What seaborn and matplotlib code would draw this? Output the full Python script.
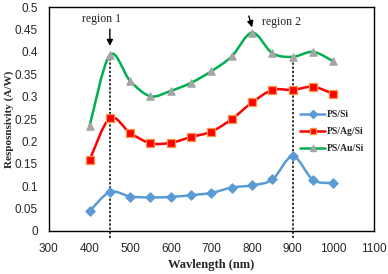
import numpy as np
import pandas as pd
import seaborn as sns
import matplotlib
matplotlib.use("Agg")
import matplotlib.pyplot as plt
from matplotlib.path import Path
from matplotlib.patches import PathPatch
from matplotlib.lines import Line2D
from matplotlib.ticker import FuncFormatter

# Dados
wavelength = [400, 450, 500, 550, 600, 650, 700, 750, 800, 850, 900, 950, 1000]
ps_si = [0.044, 0.087, 0.077, 0.075, 0.076, 0.080, 0.085, 0.097, 0.102, 0.115, 0.167, 0.114, 0.107]
ps_ag_si = [0.158, 0.252, 0.219, 0.196, 0.197, 0.210, 0.222, 0.250, 0.287, 0.315, 0.315, 0.322, 0.306]
ps_au_si = [0.234, 0.393, 0.335, 0.301, 0.313, 0.331, 0.357, 0.390, 0.443, 0.397, 0.389, 0.400, 0.379]
series_names = ["PS/Si", "PS/Ag/Si", "PS/Au/Si"]
region_x = [450, 900]
region_top = [0.393, 0.389]
region_labels = ["region 1", "region 2"]

df = pd.DataFrame({"wavelength": wavelength, "PS/Si": ps_si, "PS/Ag/Si": ps_ag_si, "PS/Au/Si": ps_au_si})
df_long = df.melt(id_vars="wavelength", var_name="sample", value_name="resp")

sns.set_style("white")
plt.rcParams["font.family"] = ["Liberation Sans", "DejaVu Sans"]

styles = {
    "PS/Si": dict(color="#5B9BD5", marker="D", mfc="#5B9BD5", mec="#5B9BD5", ms=4.5),
    "PS/Ag/Si": dict(color="#FF0000", marker="s", mfc="#FF0000", mec="#F79646", ms=5),
    "PS/Au/Si": dict(color="#00B050", marker="^", mfc="#A5A5A5", mec="#A5A5A5", ms=5),
}


def smooth_path(x, y):
    # curva suave tipo Excel (Bezier cúbica passando pelos pontos)
    x = np.asarray(x, float)
    y = np.asarray(y, float)
    pts = np.column_stack([x, y])
    n = len(pts)
    verts = [pts[0]]
    codes = [Path.MOVETO]
    for i in range(n - 1):
        p0 = pts[i - 1] if i > 0 else pts[i]
        p1 = pts[i]
        p2 = pts[i + 1]
        p3 = pts[i + 2] if i + 2 < n else pts[i + 1]
        c1 = p1 + (p2 - p0) / 6
        c2 = p2 - (p3 - p1) / 6
        verts += [c1, c2, p2]
        codes += [Path.CURVE4] * 3
    return Path(verts, codes)


fig, ax = plt.subplots(figsize=(3.88, 2.74), dpi=100)
fig.subplots_adjust(left=0.126, right=0.964, top=0.974, bottom=0.157)

# Linhas pontilhadas das regiões
for xr, yt in zip(region_x, region_top):
    ax.plot([xr, xr], [-0.016, yt], color="black", linestyle=(0, (1.5, 1.2)), linewidth=1.1, clip_on=False, zorder=1)

for name in series_names:
    st = styles[name]
    patch = PathPatch(smooth_path(df["wavelength"], df[name]), facecolor="none", edgecolor=st["color"], linewidth=1.8, zorder=2)
    ax.add_patch(patch)

for name in series_names:
    st = styles[name]
    sub = df_long[df_long["sample"] == name]
    sns.scatterplot(data=sub, x="wavelength", y="resp", marker=st["marker"], color=st["mfc"], edgecolor=st["mec"],
                    linewidth=0.9, s=st["ms"] ** 2 * 1.1, ax=ax, zorder=3, legend=False)

ax.set_xlim(300, 1100)
ax.set_ylim(0, 0.5)
ax.set_xticks(np.arange(300, 1101, 100))
ax.set_yticks(np.arange(0, 0.501, 0.05))
ax.yaxis.set_major_formatter(FuncFormatter(lambda v, p: "%g" % round(v, 2)))
ax.tick_params(axis="both", labelsize=8.5, direction="out", length=3, width=0.8)
ax.tick_params(axis="x", pad=6)
ax.tick_params(axis="y", length=0, pad=8)

for sp in ax.spines.values():
    sp.set_color("black")
    sp.set_linewidth(1.0)

ax.set_xlabel("Wavlength (nm)", family=["Liberation Serif"], fontweight="bold", fontsize=9)
ax.set_ylabel("Resposnsivity (A/W)", family=["Liberation Serif"], fontweight="bold", fontsize=8)
ax.xaxis.set_label_coords(0.5, -0.125)
ax.yaxis.set_label_coords(-0.108, 0.5)

# Anotações das regiões
ax.annotate("", xy=(450, 0.407), xytext=(450, 0.457),
            arrowprops=dict(arrowstyle="-|>", color="black", lw=1.0, mutation_scale=9))
ax.text(430, 0.473, region_labels[0], family=["Liberation Serif"], fontsize=8.5, ha="center", va="center")
ax.annotate("", xy=(802, 0.449), xytext=(790, 0.486),
            arrowprops=dict(arrowstyle="-|>", color="black", lw=1.0, mutation_scale=9))
ax.text(824, 0.467, region_labels[1], family=["Liberation Serif"], fontsize=8.5, ha="left", va="center")

handles = [Line2D([0], [0], color=styles[n]["color"], lw=1.8, marker=styles[n]["marker"],
                  markerfacecolor=styles[n]["mfc"], markeredgecolor=styles[n]["mec"], markersize=4)
           for n in series_names]
leg = ax.legend(handles, series_names, loc="upper left", bbox_to_anchor=(0.76, 0.558), frameon=False,
                prop={"family": "Liberation Serif", "weight": "bold", "size": 7}, handlelength=2.6,
                handletextpad=0.2, labelspacing=0.85, borderaxespad=0)

fig.savefig("out.png", dpi=100)
